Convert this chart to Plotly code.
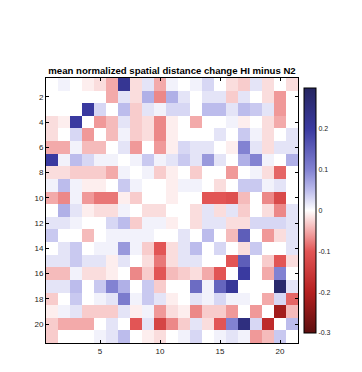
import plotly.graph_objects as go

rows = list(range(1, 22))
cols = list(range(1, 22))

r01 = [0, 0.01, 0, -0.01, -0.02, -0.05, 0.22, -0.02, 0.02, -0.05, 0.01, 0, 0.01, 0.03, 0, -0.02, -0.03, 0.02, -0.02, 0, -0.02]
r02 = [0, 0, 0, 0, 0, -0.05, 0.02, -0.02, 0.06, -0.07, 0.06, 0.02, 0, 0.02, 0.02, -0.03, 0.02, 0, -0.02, -0.06, 0]
r03 = [0, 0, 0, 0.2, 0.03, 0, 0.05, -0.03, 0.02, 0.01, 0.03, 0.03, 0, 0.05, 0.05, 0.02, 0.05, 0.04, 0.02, -0.06, 0]
r04 = [-0.02, -0.01, 0.2, 0, -0.06, -0.04, 0.02, -0.03, -0.02, -0.07, -0.01, 0, -0.05, 0, 0, 0.01, -0.01, 0, -0.02, -0.05, 0]
r05 = [-0.02, 0, 0.03, -0.06, 0, -0.04, 0.01, -0.03, -0.02, -0.07, -0.01, 0, 0, 0, 0.02, 0, 0.04, 0.01, -0.02, 0, 0.02]
r06 = [-0.05, -0.05, 0.01, -0.04, -0.04, 0, 0.02, -0.06, 0, -0.06, -0.01, 0.03, 0.02, 0.02, 0, -0.01, 0.1, 0.02, -0.02, 0.02, 0.02]
r07 = [0.2, 0.01, 0.05, 0.03, 0.01, 0.01, 0, 0.01, 0.04, 0.01, 0.02, 0.04, 0.02, 0.08, 0.02, 0, 0.06, 0.1, 0.01, 0, 0.06]
r08 = [-0.02, -0.02, -0.03, -0.03, -0.03, -0.05, 0.01, 0, 0.01, -0.03, -0.01, 0, -0.03, 0, 0, -0.06, 0, 0.01, -0.02, -0.09, 0]
r09 = [0.01, 0.05, 0.01, -0.01, -0.01, 0, 0.04, 0.01, 0, 0, -0.01, 0.01, 0.01, 0, -0.02, 0, 0.04, 0.04, 0.01, 0.02, 0]
r10 = [-0.05, -0.07, 0.01, -0.06, -0.08, -0.08, -0.01, -0.03, 0, 0, -0.01, 0, 0, -0.1, -0.1, -0.11, -0.04, 0, -0.07, -0.12, 0]
r11 = [0, 0.06, 0.02, -0.01, -0.02, -0.02, 0.01, 0, -0.02, -0.02, 0, 0, -0.02, 0.02, -0.02, 0.02, -0.03, 0, -0.02, -0.07, 0.02]
r12 = [0.02, 0.02, 0.01, 0, 0, 0.03, 0.05, -0.03, 0.01, 0.01, -0.01, 0, -0.02, 0.02, 0.02, -0.02, -0.02, 0.03, 0.03, 0.03, 0.02]
r13 = [0.04, 0, 0, -0.04, 0, 0.01, 0.01, 0.01, 0.01, 0, 0, 0.02, 0, 0.05, 0, -0.04, 0.15, 0, -0.06, -0.02, 0.02]
r14 = [0, 0.02, 0.04, 0, 0.01, 0.01, 0.08, 0.01, -0.03, -0.1, -0.02, 0.02, 0.05, 0, 0.03, 0, -0.02, 0.04, 0, 0, 0.02]
r15 = [0.02, 0.02, 0.04, 0.02, 0.02, -0.01, 0.02, 0, -0.02, -0.08, -0.02, 0.02, 0.02, 0, 0, -0.1, 0.15, 0, -0.03, -0.1, -0.02]
r16 = [-0.04, -0.04, 0.01, -0.02, -0.02, -0.01, 0, -0.07, -0.03, -0.1, -0.04, -0.03, -0.02, -0.05, -0.1, 0, 0.2, 0, -0.05, 0.1, 0]
r17 = [0.02, 0.02, 0.05, 0, 0.04, 0.1, 0.06, 0, 0.04, -0.03, 0, 0, 0.13, 0.01, 0.14, 0.21, 0, 0, 0, 0.28, 0.02]
r18 = [-0.03, 0, 0.04, 0, 0.01, 0.02, 0.11, 0.01, 0.04, 0.02, -0.01, 0, 0.02, 0.01, 0.03, 0.01, 0.01, 0, -0.05, 0.03, -0.09]
r19 = [-0.01, 0.01, 0.02, -0.03, -0.03, -0.03, 0.02, -0.01, 0.01, -0.06, -0.02, -0.01, -0.07, -0.03, -0.03, -0.06, 0, -0.06, 0, -0.22, -0.04]
r20 = [-0.03, -0.05, -0.05, -0.05, 0, 0.02, 0, -0.1, 0.02, -0.13, -0.07, -0.03, 0.02, -0.02, -0.1, 0.1, 0.25, 0.03, -0.18, 0, 0.05]
r21 = [-0.03, 0, 0, 0, 0.01, 0.02, 0.05, 0, -0.01, -0.02, 0, 0.01, 0.03, 0, 0.01, 0.02, 0.01, -0.06, -0.04, 0.04, 0]

z = [r01, r02, r03, r04, r05, r06, r07, r08, r09, r10, r11, r12, r13, r14,
     r15, r16, r17, r18, r19, r20, r21]

x_ticks = [5, 10, 15, 20]
y_ticks = [2, 4, 6, 8, 10, 12, 14, 16, 18, 20]
cb_ticks = [-0.3, -0.2, -0.1, 0, 0.1, 0.2]
cb_labels = ["-0.3", "-0.2", "-0.1", "0", "0.1", "0.2"]

colorscale = [
    [0.0, "#5c0f0f"],
    [0.1667, "#b52020"],
    [0.3333, "#e25555"],
    [0.4167, "#f3aaaa"],
    [0.5, "#ffffff"],
    [0.5833, "#bcbcec"],
    [0.6667, "#8282d2"],
    [0.8333, "#3a3aa0"],
    [1.0, "#25255f"],
]

W, H = 354, 364  # page body adds an 8px offset inside the 362x372 window

fig = go.Figure(go.Heatmap(
    z=z, x=cols, y=rows,
    zmin=-0.3, zmax=0.3,
    colorscale=colorscale,
    colorbar=dict(
        thickness=12, len=1.0, lenmode="fraction", y=0.5, yanchor="middle",
        x=1.024, xanchor="left", xpad=0,
        outlinewidth=1, outlinecolor="#000",
        tickvals=cb_ticks, ticktext=cb_labels, ticks="",
        tickfont=dict(size=7, color="#222", family="Liberation Sans"),
    ),
))

axis_common = dict(
    showline=True, linecolor="#000", linewidth=1, mirror="ticks",
    ticks="inside", ticklen=3, tickcolor="#000", showgrid=False, zeroline=False,
    tickfont=dict(size=8, color="#222", family="Liberation Sans"),
)

fig.update_layout(
    width=W, height=H,
    margin=dict(l=38, r=64, t=70, b=29),
    paper_bgcolor="white", plot_bgcolor="white",
    title=dict(
        text="<b>mean normalized spatial distance change HI minus N2</b>",
        x=0.5, xref="paper", xanchor="center",
        y=1 - 63 / H, yref="container", yanchor="middle",
        font=dict(size=9.6, color="#000", family="Liberation Sans"),
    ),
    xaxis=dict(range=[0.5, 21.5], tickvals=x_ticks, **axis_common),
    yaxis=dict(range=[21.5, 0.5], tickvals=y_ticks, **axis_common),
)

fig.write_html("out.html")
